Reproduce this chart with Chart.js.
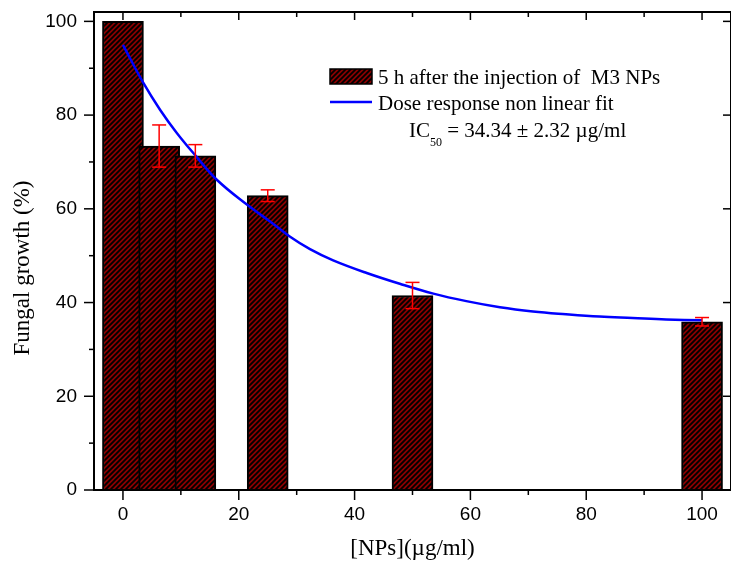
<!DOCTYPE html>
<html>
<head>
<meta charset="utf-8">
<script src="https://cdn.jsdelivr.net/npm/chart.js@4.4.0/dist/chart.umd.min.js"></script>
<style>
  body { margin: 0; background: #fff; }
  canvas { display: block; }
</style>
</head>
<body>
<canvas id="chart" width="731" height="570"></canvas>
<script>
// concentrations of M3 NPs (µg/ml) and fungal growth (%)
const concentrations = [0, 6.25, 12.5, 25, 50, 100];
const growth = [100, 73.4, 71.3, 62.8, 41.5, 35.9];
const growthErr = [0, 4.5, 2.4, 1.25, 2.8, 0.9];

// points
const fitX = [0, 3.55, 6.43, 9.3, 12.64, 16.2, 21.4, 25.4, 28.8, 32.3, 36.3, 42.1, 47.8, 53.6, 59.3, 65.1, 70.8, 76.5, 82.3, 88.0, 93.8, 100];
const fitY = [95.0, 86.8, 81.1, 76.2, 71.2, 66.2, 60.9, 57.3, 54.1, 51.4, 49.0, 46.3, 44.0, 41.9, 40.3, 39.0, 38.1, 37.5, 37.0, 36.7, 36.4, 36.2];

const xTickValues = [0, 20, 40, 60, 80, 100];
const yTickValues = [0, 20, 40, 60, 80, 100];

const barLabel = '5 h after the injection of  M3 NPs';
const fitLabel = 'Dose response non linear fit';

const tickFont = { family: '"Liberation Sans", Arial, sans-serif', size: 19 };
const serif = '"Liberation Serif", "Times New Roman", serif';

function makeHatch() {
    const s = 5;
    const c = document.createElement('canvas');
    c.width = s;
    c.height = s;
    const g = c.getContext('2d');
    g.fillStyle = '#8b0000';
    g.fillRect(0, 0, s, s);
    g.strokeStyle = '#000';
    g.lineWidth = 1.8;
    g.beginPath();
    g.moveTo(0, s); g.lineTo(s, 0);
    g.moveTo(-1, 1); g.lineTo(1, -1);
    g.moveTo(s - 1, s + 1); g.lineTo(s + 1, s - 1);
    g.stroke();
    return g.createPattern(c, 'repeat');
}

const ctx = document.getElementById('chart').getContext('2d');
const hatch = makeHatch();

function line(c, x1, y1, x2, y2) {
    c.beginPath();
    c.moveTo(x1, y1);
    c.lineTo(x2, y2);
    c.stroke();
}

const errorBars = {
    id: 'errorBars',
    afterDatasetsDraw(chart) {
        const { ctx, scales: { x, y } } = chart;
        ctx.save();
        ctx.strokeStyle = '#ff0000';
        ctx.lineWidth = 1.5;
        concentrations.forEach((c, i) => {
            if (!growthErr[i]) return;
            const px = x.getPixelForValue(c);
            const top = y.getPixelForValue(growth[i] + growthErr[i]);
            const bot = y.getPixelForValue(growth[i] - growthErr[i]);
            line(ctx, px, top, px, bot);
            line(ctx, px - 7, top, px + 7, top);
            line(ctx, px - 7, bot, px + 7, bot);
        });
        ctx.restore();
    }
};

const frame = {
    id: 'frame',
    afterDraw(chart) {
        const { ctx, chartArea: a, scales: { x, y } } = chart;
        ctx.save();
        ctx.strokeStyle = '#000';
        ctx.lineWidth = 2;
        ctx.strokeRect(a.left, a.top, a.right - a.left, a.bottom - a.top);

        ctx.lineWidth = 1.5;
        for (let v = 0; v <= 100; v += 10) {
            const major = v % 20 === 0;
            const px = x.getPixelForValue(v);
            line(ctx, px, a.bottom, px, a.bottom + (major ? 10 : 5));
            line(ctx, px, a.top, px, a.top + (major ? 8 : 5));
            const py = y.getPixelForValue(v);
            line(ctx, a.left, py, a.left - (major ? 10 : 5), py);
            if (major) line(ctx, a.right, py, a.right - 8, py);
        }

        // axis titles
        ctx.fillStyle = '#000';
        ctx.font = '23px ' + serif;
        ctx.textAlign = 'center';
        ctx.textBaseline = 'middle';
        ctx.fillText('[NPs](\u00b5g/ml)', (a.left + a.right) / 2, 549);
        ctx.save();
        ctx.translate(23, 268);
        ctx.rotate(-Math.PI / 2);
        ctx.fillText('Fungal growth (%)', 0, 0);
        ctx.restore();

        // legend
        ctx.fillStyle = hatch;
        ctx.fillRect(330, 69, 42, 15);
        ctx.lineWidth = 1.5;
        ctx.strokeRect(330, 69, 42, 15);
        ctx.strokeStyle = '#0000ff';
        ctx.lineWidth = 2.5;
        line(ctx, 330, 102, 372, 102);

        ctx.fillStyle = '#000';
        ctx.textAlign = 'left';
        ctx.textBaseline = 'alphabetic';
        ctx.font = '21px ' + serif;
        ctx.fillText(barLabel, 378, 84);
        ctx.fillText(fitLabel, 378, 110);
        let tx = 409;
        ctx.fillText('IC', tx, 137);
        tx += ctx.measureText('IC').width;
        ctx.font = '12px ' + serif;
        ctx.fillText('50', tx, 146);
        tx += ctx.measureText('50').width;
        ctx.font = '21px ' + serif;
        ctx.fillText(' = 34.34 \u00b1 2.32 \u00b5g/ml', tx, 137);
        ctx.restore();
    }
};

new Chart(ctx, {
    type: 'bar',
    data: {
        datasets: [
            {
                type: 'line',
                label: fitLabel,
                data: fitX.map((v, i) => ({ x: v, y: fitY[i] })),
                borderColor: '#0000ff',
                borderWidth: 2.5,
                pointRadius: 0,
                fill: false,
                tension: 0.4,
                order: 0
            },
            {
                label: barLabel,
                data: concentrations.map((v, i) => ({ x: v, y: growth[i] })),
                backgroundColor: hatch,
                borderColor: '#000',
                borderWidth: 2,
                barThickness: 41,
                order: 1
            }
        ]
    },
    options: {
        responsive: false,
        animation: false,
        layout: { padding: { top: 12, right: 0, bottom: 0, left: 0 } },
        plugins: {
            legend: { display: false },
            tooltip: { enabled: false }
        },
        scales: {
            x: {
                type: 'linear',
                min: -5,
                max: 105,
                offset: false,
                grid: { display: false, drawTicks: false },
                border: { display: false },
                ticks: { color: '#000', font: tickFont, padding: 13, maxRotation: 0 },
                afterBuildTicks: s => { s.ticks = xTickValues.map(v => ({ value: v })); },
                afterFit: s => { s.height = 80; s.paddingLeft = 0; s.paddingRight = 0; }
            },
            y: {
                min: 0,
                max: 102,
                grid: { display: false, drawTicks: false },
                border: { display: false },
                ticks: { color: '#000', font: tickFont, padding: 17 },
                afterBuildTicks: s => { s.ticks = yTickValues.map(v => ({ value: v })); },
                afterFit: s => { s.width = 94; s.paddingTop = 0; s.paddingBottom = 0; }
            }
        }
    },
    plugins: [errorBars, frame]
});
</script>
</body>
</html>
